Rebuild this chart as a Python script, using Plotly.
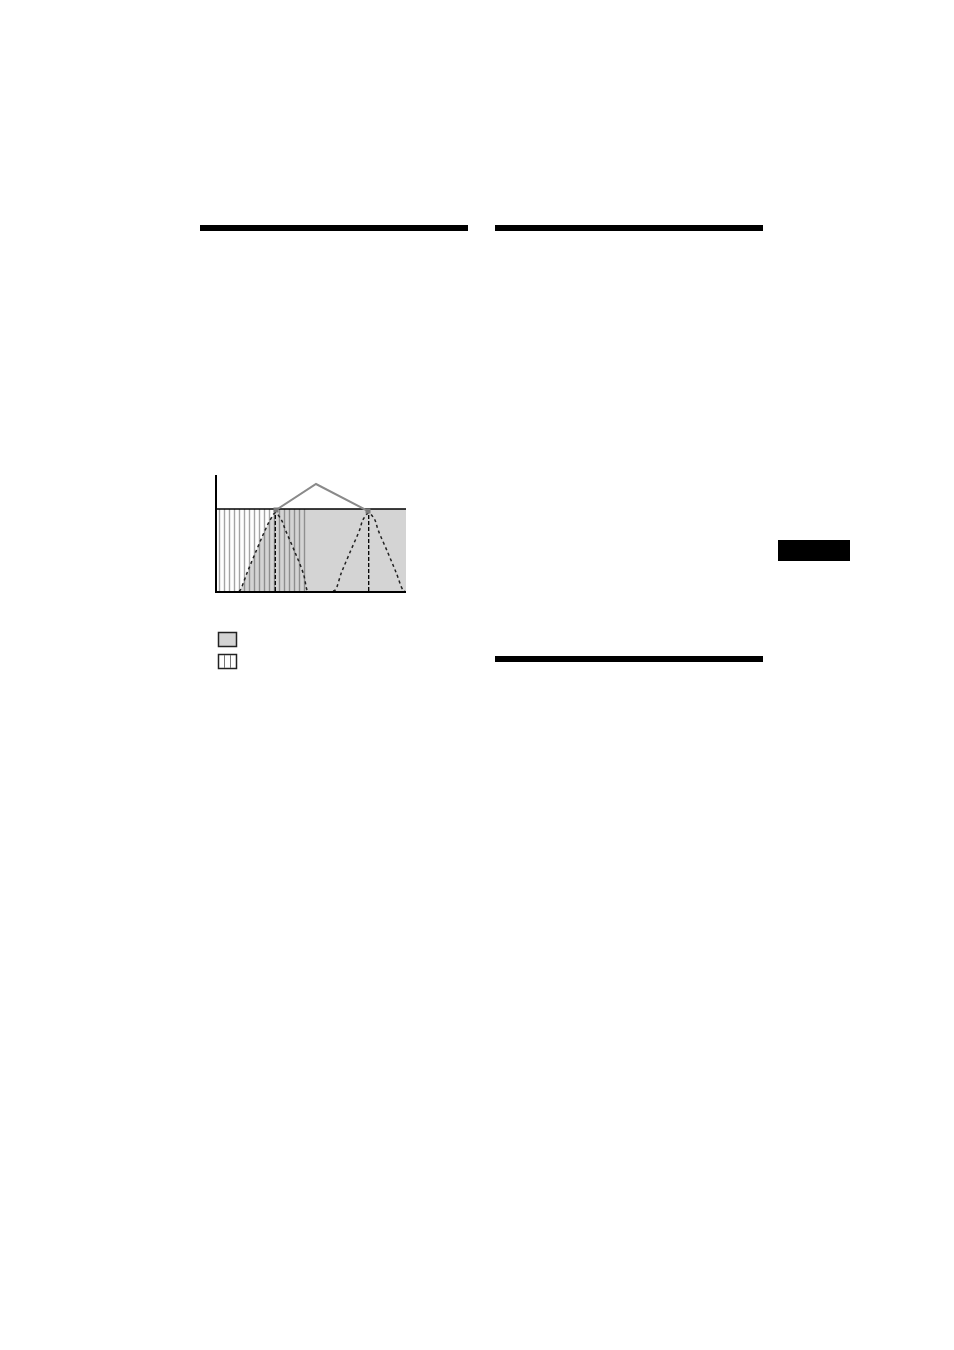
import plotly.graph_objects as go

# page size (px) of the reference sheet
W, H = 954, 1350

# response curves (x: frequency units, y: level units)
curve_a_x = [22, 23.3, 30, 38.3, 48.3, 53.3, 58.3, 64.3, 68.3, 78.3, 86.7, 90, 91]
curve_a_y = [0, 1, 18, 38, 61.3, 71.3, 78, 71.3, 61.3, 38, 16.3, 1, 0]
curve_b_x = [116, 118.3, 124.3, 132.7, 142.7, 146, 151.7, 157.7, 161, 171, 179.3, 186, 188]
curve_b_y = [0, 1, 18, 38, 61.3, 71.3, 78, 71.3, 61.3, 38, 18, 1, 0]

peaks_x = [58.3, 151.7]
level_top = 82
x_max = 189
y_max = 116

# gray area: rises with curve A, then flat to the right edge
gray_x = curve_a_x[:7] + [58.3, x_max, x_max]
gray_y = curve_a_y[:7] + [level_top, level_top, 0]

# striped band
stripe_x = [0, 91, 91, 0]
stripe_y = [0, 0, level_top, level_top]

# callout joining the two peaks
callout_x = [59, 99, 151]
callout_y = [81, 107, 80]


def px(x):
    return x / W


def py(y):
    return 1 - y / H


fig = go.Figure()

fig.add_trace(go.Scatter(
    x=gray_x, y=gray_y, mode="none", fill="toself",
    fillcolor="#d4d4d4", hoverinfo="skip",
))
fig.add_trace(go.Scatter(
    x=stripe_x, y=stripe_y, mode="none", fill="toself",
    fillcolor="rgba(0,0,0,0)",
    fillpattern=dict(shape="|", size=5, solidity=0.28, fgcolor="#4a4a4a"),
    hoverinfo="skip",
))
# top level line
fig.add_trace(go.Scatter(
    x=[0, x_max], y=[level_top, level_top], mode="lines",
    line=dict(color="black", width=1.5), hoverinfo="skip",
))
for cx, cy in [(curve_a_x, curve_a_y), (curve_b_x, curve_b_y)]:
    fig.add_trace(go.Scatter(
        x=cx, y=cy, mode="lines", line_shape="spline",
        line=dict(color="#222222", width=1.5, dash="3px,3px"),
        hoverinfo="skip",
    ))
for p in peaks_x:
    fig.add_trace(go.Scatter(
        x=[p, p], y=[0, level_top], mode="lines",
        line=dict(color="black", width=1.3, dash="4px,2px"),
        hoverinfo="skip",
    ))
fig.add_trace(go.Scatter(
    x=callout_x, y=callout_y, mode="lines",
    line=dict(color="#8a8a8a", width=2), hoverinfo="skip",
))
fig.add_trace(go.Scatter(
    x=[callout_x[0], callout_x[-1]], y=[callout_y[0], callout_y[-1]],
    mode="markers", marker=dict(symbol="square", size=5, color="#7a7a7a"),
    hoverinfo="skip",
))

shapes = []
# heavy section rules
for x0, x1, y0, y1 in [(200, 468, 225, 231), (495, 763, 225, 231), (495, 763, 656, 662)]:
    shapes.append(dict(type="rect", xref="paper", yref="paper",
                       x0=px(x0), x1=px(x1), y0=py(y1), y1=py(y0),
                       fillcolor="black", line_width=0))
# side tab
shapes.append(dict(type="rect", xref="paper", yref="paper",
                   x0=px(778), x1=px(850), y0=py(561), y1=py(540),
                   fillcolor="black", line_width=0))
# legend keys
shapes.append(dict(type="rect", xref="paper", yref="paper",
                   x0=px(218.5), x1=px(236.5), y0=py(646.5), y1=py(632.5),
                   fillcolor="#d4d4d4", line=dict(color="#222222", width=1.5)))
shapes.append(dict(type="rect", xref="paper", yref="paper",
                   x0=px(218.5), x1=px(236.5), y0=py(668.5), y1=py(654.5),
                   fillcolor="white", line=dict(color="#222222", width=1.5)))
for lx in [224.5, 230.5]:
    shapes.append(dict(type="line", xref="paper", yref="paper",
                       x0=px(lx), x1=px(lx), y0=py(668), y1=py(655),
                       line=dict(color="#777777", width=1)))

fig.update_layout(
    width=W, height=H,
    margin=dict(l=0, r=0, t=0, b=0),
    paper_bgcolor="white", plot_bgcolor="rgba(0,0,0,0)",
    showlegend=False,
    shapes=shapes,
    xaxis=dict(domain=[px(217), px(406)], range=[0, x_max],
               showgrid=False, zeroline=False, showticklabels=False, ticks="",
               showline=True, linecolor="black", linewidth=1.5,
               anchor="y", fixedrange=True),
    yaxis=dict(domain=[py(591), py(475)], range=[0, y_max],
               showgrid=False, zeroline=False, showticklabels=False, ticks="",
               showline=True, linecolor="black", linewidth=1.5,
               anchor="x", fixedrange=True),
)

# the page has no body margin, so the sheet sits at the window's top-left corner
fig.write_html("out.html", config={"displayModeBar": False},
               post_script="document.body.style.margin='0px';")
